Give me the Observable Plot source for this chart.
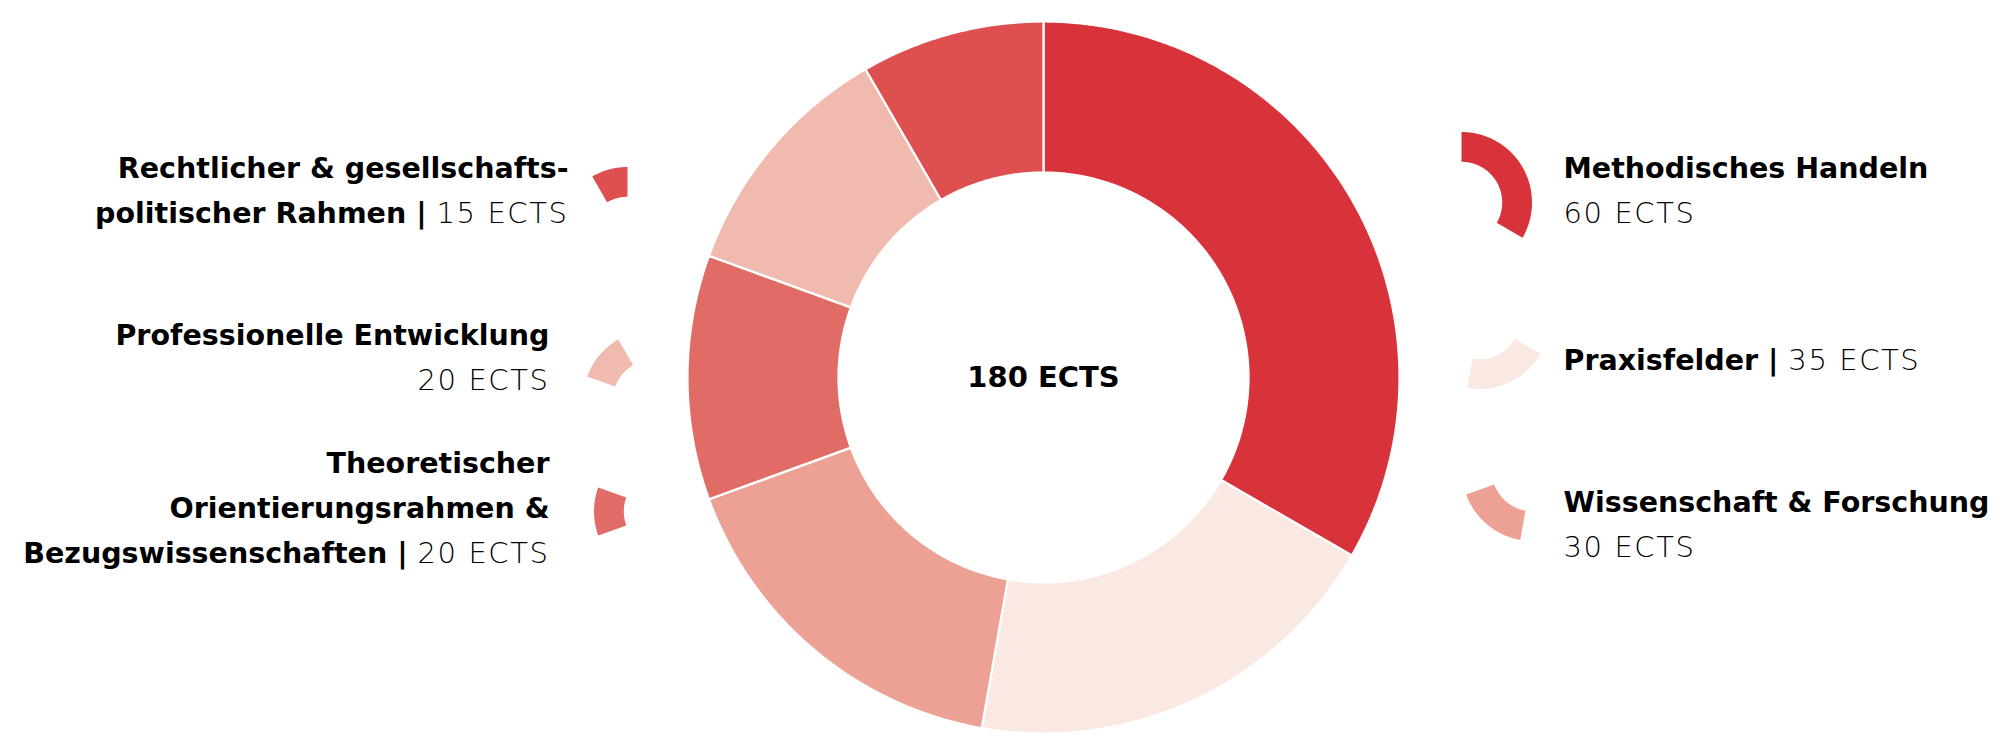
<!DOCTYPE html>
<html><head><meta charset="utf-8">
<script src="https://cdn.jsdelivr.net/npm/d3@7"></script>
<script src="https://cdn.jsdelivr.net/npm/@observablehq/plot@0.6"></script>
<style>
html,body{margin:0;padding:0;background:#fff;}
#chart svg{display:block;}
</style></head><body><div id="chart"></div>
<script>
// ---- data ----
const categories = ["Methodisches Handeln","Praxisfelder","Wissenschaft & Forschung","Theoretischer Orientierungsrahmen & Bezugswissenschaften","Professionelle Entwicklung","Rechtlicher & gesellschaftspolitischer Rahmen"];
const ects = [60, 35, 30, 20, 20, 15];
const labelTexts = [
  "Methodisches Handeln\n60 ECTS",
  "Praxisfelder | 35 ECTS",
  "Wissenschaft & Forschung\n30 ECTS",
  "Theoretischer\nOrientierungsrahmen &\nBezugswissenschaften | 20 ECTS",
  "Professionelle Entwicklung\n20 ECTS",
  "Rechtlicher & gesellschafts-\npolitischer Rahmen | 15 ECTS"
];
const colors = ["#d8323b","#fae9e3","#eca194","#e16c65","#f0baaf","#de504f"];
const totalLabel = "180 ECTS";

// ---- layout ----
const W = 2000, H = 750;
const donut = {cx: 1043, cy: 377, R: 356, r: 205};
const iconScale = 0.1986;
const iconCenters = [[1461,202],[1479,318],[1532,470],[664,511],[653,400],[627,237]];
const labelPos = [[1563,146,"start"],[1563,338,"start"],[1563,480,"start"],[549,441,"end"],[549,313,"end"],[568,146,"end"]];
const FONT = "'DejaVu Sans', sans-serif";
const FS = 28.5;

const arcs = d3.pie().sort(null).value(d => d)(ects);

function ringPoints(i, cx, cy, R, r) {
  const a0 = arcs[i].startAngle, a1 = arcs[i].endAngle;
  const n = Math.max(2, Math.ceil((a1 - a0) / (Math.PI / 360)));
  const pts = [];
  for (let k = 0; k <= n; k++) {
    const a = a0 + (a1 - a0) * k / n;
    pts.push({cat: categories[i], x: cx + R * Math.sin(a), y: cy - R * Math.cos(a)});
  }
  for (let k = n; k >= 0; k--) {
    const a = a0 + (a1 - a0) * k / n;
    pts.push({cat: categories[i], x: cx + r * Math.sin(a), y: cy - r * Math.cos(a)});
  }
  return pts;
}

const donutPts = categories.flatMap((c, i) => ringPoints(i, donut.cx, donut.cy, donut.R, donut.r));
const iconPts = categories.flatMap((c, i) => ringPoints(i, iconCenters[i][0], iconCenters[i][1], 70.5, 205 * iconScale));
const labels = categories.map((c, i) => ({cat: c, text: labelTexts[i], x: labelPos[i][0], y: labelPos[i][1], anchor: labelPos[i][2]}));

const plot = Plot.plot({
  width: W, height: H, margin: 0,
  x: {domain: [0, W], range: [0, W], axis: null},
  y: {domain: [0, H], range: [0, H], axis: null},
  color: {domain: categories, range: colors},
  style: {fontFamily: FONT, background: "#fff", color: "#000"},
  marks: [
    Plot.line(donutPts, {x: "x", y: "y", z: "cat", fill: "cat", stroke: "#fff", strokeWidth: 2.2, strokeLinejoin: "miter", curve: "linear-closed"}),
    Plot.line(iconPts, {x: "x", y: "y", z: "cat", fill: "cat", stroke: "none", curve: "linear-closed"}),
    Plot.text([totalLabel], {x: () => donut.cx, y: () => donut.cy, text: d => d, fontSize: 29, fontWeight: 700, fill: "#000", textAnchor: "middle", lineAnchor: "middle"}),
    Plot.text(labels.filter(d => d.anchor === "start"), {x: "x", y: "y", text: "text", textAnchor: "start", lineAnchor: "top", fontSize: FS, fontWeight: 700, lineHeight: 45 / FS, fill: "#000"}),
    Plot.text(labels.filter(d => d.anchor === "end"), {x: "x", y: "y", text: "text", textAnchor: "end", lineAnchor: "top", fontSize: FS, fontWeight: 700, lineHeight: 45 / FS, fill: "#000"})
  ]
});

// split lines into bold name part and light "NN ECTS" part
const NS = "http://www.w3.org/2000/svg";
plot.querySelectorAll("text").forEach(t => {
  const spans = t.querySelectorAll("tspan");
  const nodes = spans.length ? [...spans] : [t];
  nodes.forEach(n => {
    const s = n.textContent;
    if (n === t && s === totalLabel) return; // centre label stays bold
    const m = s.match(/^(.*?)(\d+ ECTS)$/);
    if (!m) return;
    n.textContent = "";
    if (m[1]) {
      const b = document.createElementNS(NS, "tspan");
      b.setAttribute("font-weight", "700");
      b.textContent = m[1];
      n.appendChild(b);
    }
    const l = document.createElementNS(NS, "tspan");
    l.setAttribute("font-weight", "200");
    l.setAttribute("font-size", "29");
    l.setAttribute("letter-spacing", "1.6");
    l.textContent = m[2];
    n.appendChild(l);
  });
});

document.getElementById("chart").appendChild(plot);
</script>
</body></html>
